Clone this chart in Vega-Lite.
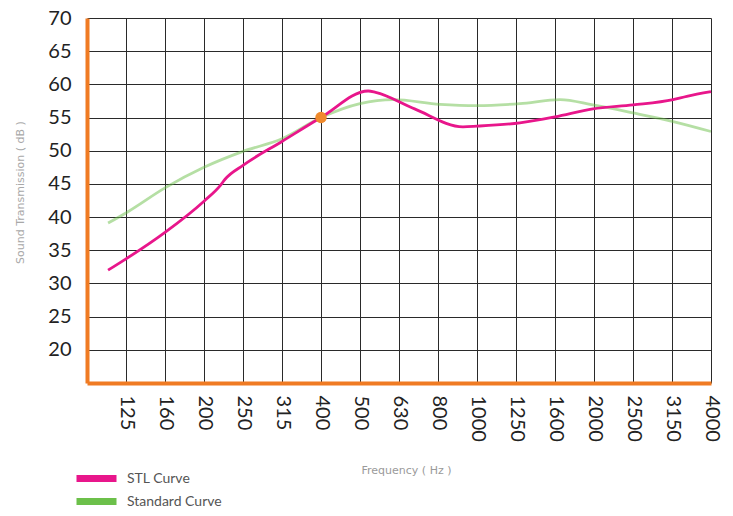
{
  "$schema": "https://vega.github.io/schema/vega-lite/v6.json",
  "width": 624,
  "height": 365,
  "autosize": {"type": "none"},
  "padding": {"left": 87, "top": 18, "right": 22, "bottom": 133},
  "background": "white",
  "config": {
    "view": {"stroke": null},
    "font": "Lato"
  },
  "datasets": {
    "curves": [
      {"series": "Standard Curve", "pos": -0.46, "value": 39.1},
      {"series": "Standard Curve", "pos": 0.02, "value": 40.7},
      {"series": "Standard Curve", "pos": 1, "value": 44.4},
      {"series": "Standard Curve", "pos": 2, "value": 47.5},
      {"series": "Standard Curve", "pos": 3, "value": 49.9},
      {"series": "Standard Curve", "pos": 4, "value": 51.8},
      {"series": "Standard Curve", "pos": 5, "value": 55.0},
      {"series": "Standard Curve", "pos": 6, "value": 57.1},
      {"series": "Standard Curve", "pos": 6.85, "value": 57.7},
      {"series": "Standard Curve", "pos": 8.05, "value": 57.0},
      {"series": "Standard Curve", "pos": 9, "value": 56.8},
      {"series": "Standard Curve", "pos": 10.1, "value": 57.1},
      {"series": "Standard Curve", "pos": 11.13, "value": 57.7},
      {"series": "Standard Curve", "pos": 11.97, "value": 56.9},
      {"series": "Standard Curve", "pos": 13, "value": 55.7},
      {"series": "Standard Curve", "pos": 14.03, "value": 54.4},
      {"series": "Standard Curve", "pos": 15, "value": 52.9},
      {"series": "STL Curve", "pos": -0.46, "value": 32.0},
      {"series": "STL Curve", "pos": 0, "value": 33.7},
      {"series": "STL Curve", "pos": 1, "value": 37.7},
      {"series": "STL Curve", "pos": 2, "value": 42.4},
      {"series": "STL Curve", "pos": 2.41, "value": 44.7},
      {"series": "STL Curve", "pos": 2.54, "value": 45.7},
      {"series": "STL Curve", "pos": 3, "value": 47.8},
      {"series": "STL Curve", "pos": 4, "value": 51.4},
      {"series": "STL Curve", "pos": 5, "value": 55.0},
      {"series": "STL Curve", "pos": 6.21, "value": 59.0},
      {"series": "STL Curve", "pos": 6.4, "value": 58.8},
      {"series": "STL Curve", "pos": 7.4, "value": 56.3},
      {"series": "STL Curve", "pos": 8.64, "value": 53.6},
      {"series": "STL Curve", "pos": 9, "value": 53.7},
      {"series": "STL Curve", "pos": 10.1, "value": 54.2},
      {"series": "STL Curve", "pos": 11, "value": 55.1},
      {"series": "STL Curve", "pos": 11.97, "value": 56.3},
      {"series": "STL Curve", "pos": 13, "value": 56.9},
      {"series": "STL Curve", "pos": 14.03, "value": 57.7},
      {"series": "STL Curve", "pos": 14.38, "value": 58.2},
      {"series": "STL Curve", "pos": 15, "value": 58.9}
    ],
    "marker": [
      {"pos": 5, "value": 55}
    ]
  },
  "encoding": {
    "x": {
      "field": "pos",
      "type": "quantitative",
      "scale": {"domain": [-1, 15], "nice": false, "zero": false},
      "axis": {
        "values": [0, 1, 2, 3, 4, 5, 6, 7, 8, 9, 10, 11, 12, 13, 14, 15],
        "tickCount": 40,
        "labelExpr": "['125','160','200','250','315','400','500','630','800','1000','1250','1600','2000','2500','3150','4000'][datum.value]",
        "labelAngle": 90,
        "labelAlign": "left",
        "labelBaseline": "middle",
        "labelFontSize": 20,
        "labelColor": "#222222",
        "labelPadding": 12,
        "labelFont": "Lato",
        "ticks": false,
        "grid": true,
        "gridColor": "#2a2a2a",
        "gridWidth": 1,
        "domainColor": "#f07b23",
        "domainWidth": 4,
        "title": "Frequency ( Hz )",
        "titleFont": "DejaVu Sans",
        "titleFontSize": 11,
        "titleFontWeight": "normal",
        "titleColor": "#9a9a9a",
        "titleX": 319,
        "titleY": 87,
        "titleBaseline": "middle",
        "labelOverlap": false
      }
    },
    "y": {
      "field": "value",
      "type": "quantitative",
      "scale": {"domain": [15, 70], "nice": false, "zero": false},
      "axis": {
        "values": [20, 25, 30, 35, 40, 45, 50, 55, 60, 65, 70],
        "tickCount": 40,
        "labelFontSize": 20,
        "labelColor": "#222222",
        "labelPadding": 16,
        "labelFont": "Lato",
        "ticks": false,
        "grid": true,
        "gridColor": "#2a2a2a",
        "gridWidth": 1,
        "domainColor": "#f07b23",
        "domainWidth": 4,
        "title": "Sound Transmission ( dB )",
        "titleFont": "DejaVu Sans",
        "titleFontSize": 11,
        "titleFontWeight": "normal",
        "titleColor": "#a8a8a8",
        "titleX": -67,
        "titleY": 174,
        "titleAlign": "center",
        "titleBaseline": "middle",
        "labelOverlap": false
      }
    }
  },
  "layer": [
    {
      "data": {"name": "curves"},
      "mark": {"type": "line", "interpolate": "monotone", "strokeWidth": 2.8},
      "encoding": {
        "color": {
          "field": "series",
          "type": "nominal",
          "sort": ["STL Curve", "Standard Curve"],
          "scale": {"domain": ["STL Curve", "Standard Curve"], "range": ["#e8168b", "#6cc04a"]},
          "legend": {
            "orient": "none",
            "legendX": 1,
            "legendY": 452,
            "direction": "vertical",
            "title": null,
            "symbolType": "M-4,0L4,0",
            "symbolSize": 100,
            "symbolStrokeWidth": 7,
            "labelFontSize": 14,
            "labelColor": "#555555",
            "labelOffset": 22,
            "rowPadding": -6
          }
        },
        "strokeOpacity": {
          "field": "series",
          "type": "nominal",
          "scale": {"domain": ["STL Curve", "Standard Curve"], "range": [1, 0.5]},
          "legend": null
        },
        "order": {"field": "series", "type": "nominal", "sort": "descending"}
      }
    },
    {
      "data": {"name": "marker"},
      "mark": {"type": "circle", "size": 130, "color": "#f08a2c", "opacity": 1}
    }
  ]
}
